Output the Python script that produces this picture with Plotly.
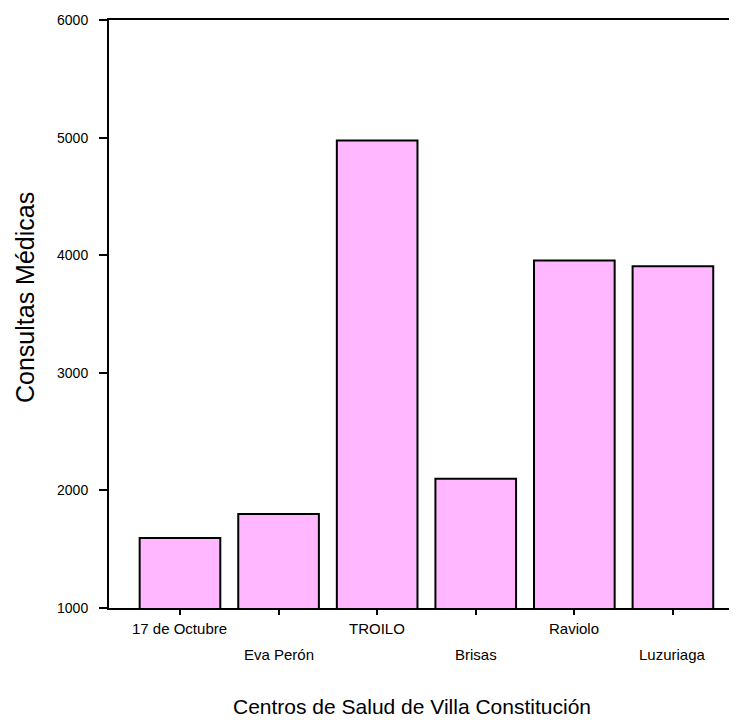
import plotly.graph_objects as go

categorias = ["17 de Octubre", "Eva Perón", "TROILO", "Brisas", "Raviolo", "Luzuriaga"]
consultas = [1595, 1800, 4975, 2100, 3955, 3905]
y_ticks = [1000, 2000, 3000, 4000, 5000, 6000]
titulo_x = "Centros de Salud de Villa Constitución"
titulo_y = "Consultas Médicas"

FONT = "Liberation Sans, Arial, sans-serif"

# the page body has an 8px default margin, so the figure is shifted by 8px
OFF = 8
PLOT_L, PLOT_T, PLOT_B, PLOT_R = 109, 20, 608, 737
PW, PH = PLOT_R - PLOT_L, PLOT_B - PLOT_T

fig = go.Figure()
fig.add_trace(go.Bar(
    x=list(range(len(categorias))),
    y=consultas,
    width=0.818,
    marker=dict(color="#FFB8FF", line=dict(color="black", width=2)),
    showlegend=False,
))

annotations = []
for i, name in enumerate(categorias):
    annotations.append(dict(
        x=i, xref="x", y=0, yref="paper", yanchor="top", xanchor="center",
        yshift=-10 if i % 2 == 0 else -36,
        text=name, showarrow=False,
        font=dict(family=FONT, size=15, color="black"),
    ))
annotations.append(dict(
    x=(412 - PLOT_L) / PW, xref="paper", y=(PLOT_B - 706) / PH, yref="paper",
    xanchor="center", yanchor="middle", text=titulo_x, showarrow=False,
    font=dict(family=FONT, size=21, color="black"),
))
annotations.append(dict(
    x=(25 - PLOT_L) / PW, xref="paper", y=(PLOT_B - 298) / PH, yref="paper",
    xanchor="center", yanchor="middle", text=titulo_y, showarrow=False,
    textangle=-90, font=dict(family=FONT, size=25, color="black"),
))

fig.update_layout(
    width=737 - OFF, height=720 - OFF,
    margin=dict(l=PLOT_L - OFF, r=0, t=PLOT_T - OFF, b=720 - PLOT_B),
    plot_bgcolor="white", paper_bgcolor="white",
    font=dict(family=FONT, color="black"),
    xaxis=dict(
        range=[-0.72, 5.65],
        tickmode="array", tickvals=list(range(len(categorias))),
        showticklabels=False,
        ticks="outside", ticklen=5, tickwidth=2, tickcolor="black",
        showline=True, linecolor="black", linewidth=2, mirror=True,
        showgrid=False, zeroline=False,
    ),
    yaxis=dict(
        range=[1000, 6000],
        tickmode="array", tickvals=y_ticks,
        ticks="outside", ticklen=8, tickwidth=2, tickcolor="black",
        ticklabelstandoff=8,
        tickfont=dict(family=FONT, size=14, color="black"),
        showline=True, linecolor="black", linewidth=2,
        showgrid=False, zeroline=False,
    ),
    annotations=annotations,
)

fig.write_html("out.html")
